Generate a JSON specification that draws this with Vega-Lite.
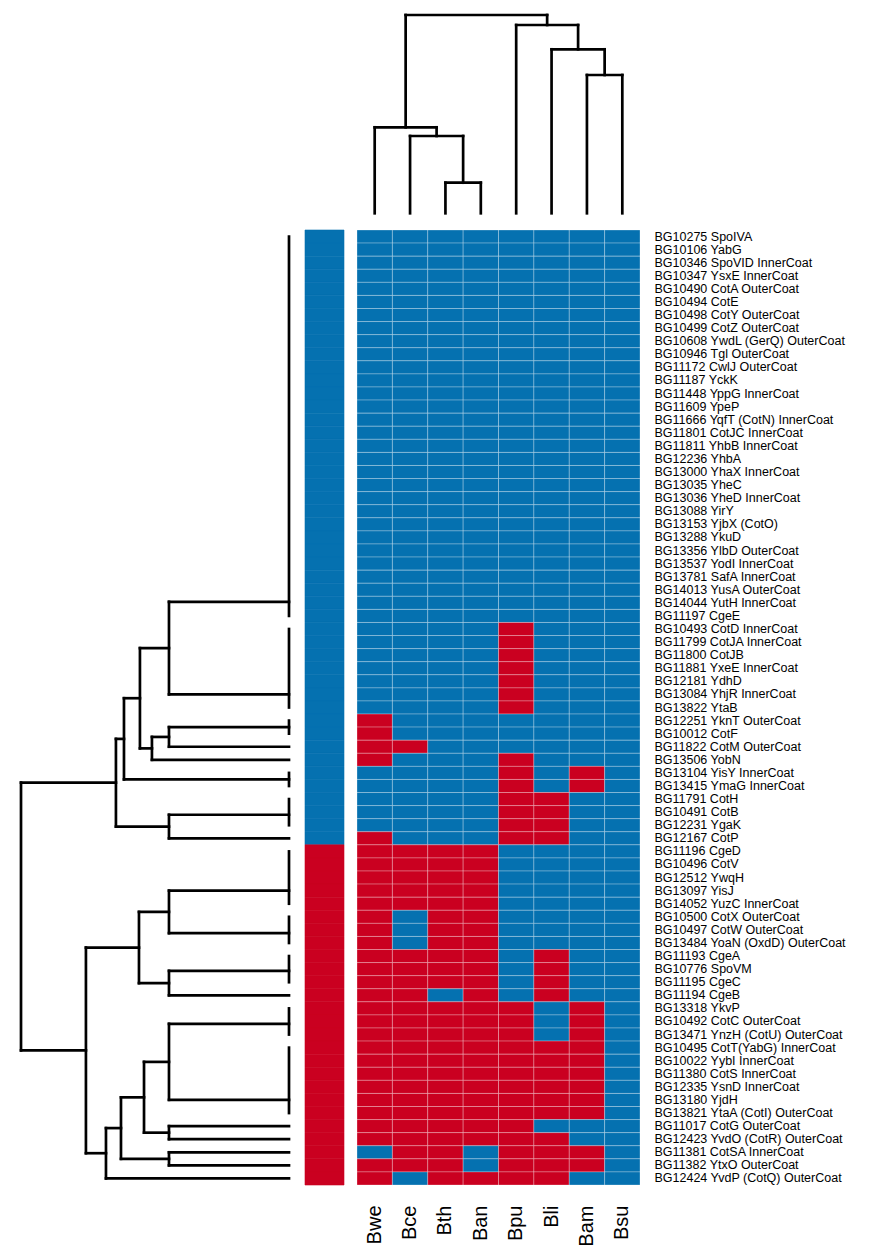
{
"$schema": "https://vega.github.io/schema/vega-lite/v6.json",
"background": "white",
"padding": {"left": 9, "top": 11, "right": 0, "bottom": 0},
"config": {"view": {"stroke": null}, "axis": {"labelFont": "Liberation Sans", "labelColor": "black"}},
"datasets": {
"genes": [
{"r":1,"g":"BG10275 SpoIVA","k":0},{"r":2,"g":"BG10106 YabG","k":0},{"r":3,"g":"BG10346 SpoVID InnerCoat","k":0},{"r":4,"g":"BG10347 YsxE InnerCoat","k":0},{"r":5,"g":"BG10490 CotA OuterCoat","k":0},{"r":6,"g":"BG10494 CotE","k":0},{"r":7,"g":"BG10498 CotY OuterCoat","k":0},{"r":8,"g":"BG10499 CotZ OuterCoat","k":0},{"r":9,"g":"BG10608 YwdL (GerQ) OuterCoat","k":0},{"r":10,"g":"BG10946 Tgl OuterCoat","k":0},
{"r":11,"g":"BG11172 CwlJ OuterCoat","k":0},{"r":12,"g":"BG11187 YckK","k":0},{"r":13,"g":"BG11448 YppG InnerCoat","k":0},{"r":14,"g":"BG11609 YpeP","k":0},{"r":15,"g":"BG11666 YqfT (CotN) InnerCoat","k":0},{"r":16,"g":"BG11801 CotJC InnerCoat","k":0},{"r":17,"g":"BG11811 YhbB InnerCoat","k":0},{"r":18,"g":"BG12236 YhbA","k":0},{"r":19,"g":"BG13000 YhaX InnerCoat","k":0},{"r":20,"g":"BG13035 YheC","k":0},
{"r":21,"g":"BG13036 YheD InnerCoat","k":0},{"r":22,"g":"BG13088 YirY","k":0},{"r":23,"g":"BG13153 YjbX (CotO)","k":0},{"r":24,"g":"BG13288 YkuD","k":0},{"r":25,"g":"BG13356 YlbD OuterCoat","k":0},{"r":26,"g":"BG13537 YodI InnerCoat","k":0},{"r":27,"g":"BG13781 SafA InnerCoat","k":0},{"r":28,"g":"BG14013 YusA OuterCoat","k":0},{"r":29,"g":"BG14044 YutH InnerCoat","k":0},{"r":30,"g":"BG11197 CgeE","k":0},
{"r":31,"g":"BG10493 CotD InnerCoat","k":0},{"r":32,"g":"BG11799 CotJA InnerCoat","k":0},{"r":33,"g":"BG11800 CotJB","k":0},{"r":34,"g":"BG11881 YxeE InnerCoat","k":0},{"r":35,"g":"BG12181 YdhD","k":0},{"r":36,"g":"BG13084 YhjR InnerCoat","k":0},{"r":37,"g":"BG13822 YtaB","k":0},{"r":38,"g":"BG12251 YknT OuterCoat","k":0},{"r":39,"g":"BG10012 CotF","k":0},{"r":40,"g":"BG11822 CotM OuterCoat","k":0},
{"r":41,"g":"BG13506 YobN","k":0},{"r":42,"g":"BG13104 YisY InnerCoat","k":0},{"r":43,"g":"BG13415 YmaG InnerCoat","k":0},{"r":44,"g":"BG11791 CotH","k":0},{"r":45,"g":"BG10491 CotB","k":0},{"r":46,"g":"BG12231 YgaK","k":0},{"r":47,"g":"BG12167 CotP","k":0},{"r":48,"g":"BG11196 CgeD","k":1},{"r":49,"g":"BG10496 CotV","k":1},{"r":50,"g":"BG12512 YwqH","k":1},
{"r":51,"g":"BG13097 YisJ","k":1},{"r":52,"g":"BG14052 YuzC InnerCoat","k":1},{"r":53,"g":"BG10500 CotX OuterCoat","k":1},{"r":54,"g":"BG10497 CotW OuterCoat","k":1},{"r":55,"g":"BG13484 YoaN (OxdD) OuterCoat","k":1},{"r":56,"g":"BG11193 CgeA","k":1},{"r":57,"g":"BG10776 SpoVM","k":1},{"r":58,"g":"BG11195 CgeC","k":1},{"r":59,"g":"BG11194 CgeB","k":1},{"r":60,"g":"BG13318 YkvP","k":1},
{"r":61,"g":"BG10492 CotC OuterCoat","k":1},{"r":62,"g":"BG13471 YnzH (CotU) OuterCoat","k":1},{"r":63,"g":"BG10495 CotT(YabG) InnerCoat","k":1},{"r":64,"g":"BG10022 YybI InnerCoat","k":1},{"r":65,"g":"BG11380 CotS InnerCoat","k":1},{"r":66,"g":"BG12335 YsnD InnerCoat","k":1},{"r":67,"g":"BG13180 YjdH","k":1},{"r":68,"g":"BG13821 YtaA (CotI) OuterCoat","k":1},{"r":69,"g":"BG11017 CotG OuterCoat","k":1},{"r":70,"g":"BG12423 YvdO (CotR) OuterCoat","k":1},
{"r":71,"g":"BG11381 CotSA InnerCoat","k":1},{"r":72,"g":"BG11382 YtxO OuterCoat","k":1},{"r":73,"g":"BG12424 YvdP (CotQ) OuterCoat","k":1}
],
"cells": [
{"r":1,"s":"Bwe","v":0},{"r":1,"s":"Bce","v":0},{"r":1,"s":"Bth","v":0},{"r":1,"s":"Ban","v":0},{"r":1,"s":"Bpu","v":0},{"r":1,"s":"Bli","v":0},{"r":1,"s":"Bam","v":0},{"r":1,"s":"Bsu","v":0},
{"r":2,"s":"Bwe","v":0},{"r":2,"s":"Bce","v":0},{"r":2,"s":"Bth","v":0},{"r":2,"s":"Ban","v":0},{"r":2,"s":"Bpu","v":0},{"r":2,"s":"Bli","v":0},{"r":2,"s":"Bam","v":0},{"r":2,"s":"Bsu","v":0},
{"r":3,"s":"Bwe","v":0},{"r":3,"s":"Bce","v":0},{"r":3,"s":"Bth","v":0},{"r":3,"s":"Ban","v":0},{"r":3,"s":"Bpu","v":0},{"r":3,"s":"Bli","v":0},{"r":3,"s":"Bam","v":0},{"r":3,"s":"Bsu","v":0},
{"r":4,"s":"Bwe","v":0},{"r":4,"s":"Bce","v":0},{"r":4,"s":"Bth","v":0},{"r":4,"s":"Ban","v":0},{"r":4,"s":"Bpu","v":0},{"r":4,"s":"Bli","v":0},{"r":4,"s":"Bam","v":0},{"r":4,"s":"Bsu","v":0},
{"r":5,"s":"Bwe","v":0},{"r":5,"s":"Bce","v":0},{"r":5,"s":"Bth","v":0},{"r":5,"s":"Ban","v":0},{"r":5,"s":"Bpu","v":0},{"r":5,"s":"Bli","v":0},{"r":5,"s":"Bam","v":0},{"r":5,"s":"Bsu","v":0},
{"r":6,"s":"Bwe","v":0},{"r":6,"s":"Bce","v":0},{"r":6,"s":"Bth","v":0},{"r":6,"s":"Ban","v":0},{"r":6,"s":"Bpu","v":0},{"r":6,"s":"Bli","v":0},{"r":6,"s":"Bam","v":0},{"r":6,"s":"Bsu","v":0},
{"r":7,"s":"Bwe","v":0},{"r":7,"s":"Bce","v":0},{"r":7,"s":"Bth","v":0},{"r":7,"s":"Ban","v":0},{"r":7,"s":"Bpu","v":0},{"r":7,"s":"Bli","v":0},{"r":7,"s":"Bam","v":0},{"r":7,"s":"Bsu","v":0},
{"r":8,"s":"Bwe","v":0},{"r":8,"s":"Bce","v":0},{"r":8,"s":"Bth","v":0},{"r":8,"s":"Ban","v":0},{"r":8,"s":"Bpu","v":0},{"r":8,"s":"Bli","v":0},{"r":8,"s":"Bam","v":0},{"r":8,"s":"Bsu","v":0},
{"r":9,"s":"Bwe","v":0},{"r":9,"s":"Bce","v":0},{"r":9,"s":"Bth","v":0},{"r":9,"s":"Ban","v":0},{"r":9,"s":"Bpu","v":0},{"r":9,"s":"Bli","v":0},{"r":9,"s":"Bam","v":0},{"r":9,"s":"Bsu","v":0},
{"r":10,"s":"Bwe","v":0},{"r":10,"s":"Bce","v":0},{"r":10,"s":"Bth","v":0},{"r":10,"s":"Ban","v":0},{"r":10,"s":"Bpu","v":0},{"r":10,"s":"Bli","v":0},{"r":10,"s":"Bam","v":0},{"r":10,"s":"Bsu","v":0},
{"r":11,"s":"Bwe","v":0},{"r":11,"s":"Bce","v":0},{"r":11,"s":"Bth","v":0},{"r":11,"s":"Ban","v":0},{"r":11,"s":"Bpu","v":0},{"r":11,"s":"Bli","v":0},{"r":11,"s":"Bam","v":0},{"r":11,"s":"Bsu","v":0},
{"r":12,"s":"Bwe","v":0},{"r":12,"s":"Bce","v":0},{"r":12,"s":"Bth","v":0},{"r":12,"s":"Ban","v":0},{"r":12,"s":"Bpu","v":0},{"r":12,"s":"Bli","v":0},{"r":12,"s":"Bam","v":0},{"r":12,"s":"Bsu","v":0},
{"r":13,"s":"Bwe","v":0},{"r":13,"s":"Bce","v":0},{"r":13,"s":"Bth","v":0},{"r":13,"s":"Ban","v":0},{"r":13,"s":"Bpu","v":0},{"r":13,"s":"Bli","v":0},{"r":13,"s":"Bam","v":0},{"r":13,"s":"Bsu","v":0},
{"r":14,"s":"Bwe","v":0},{"r":14,"s":"Bce","v":0},{"r":14,"s":"Bth","v":0},{"r":14,"s":"Ban","v":0},{"r":14,"s":"Bpu","v":0},{"r":14,"s":"Bli","v":0},{"r":14,"s":"Bam","v":0},{"r":14,"s":"Bsu","v":0},
{"r":15,"s":"Bwe","v":0},{"r":15,"s":"Bce","v":0},{"r":15,"s":"Bth","v":0},{"r":15,"s":"Ban","v":0},{"r":15,"s":"Bpu","v":0},{"r":15,"s":"Bli","v":0},{"r":15,"s":"Bam","v":0},{"r":15,"s":"Bsu","v":0},
{"r":16,"s":"Bwe","v":0},{"r":16,"s":"Bce","v":0},{"r":16,"s":"Bth","v":0},{"r":16,"s":"Ban","v":0},{"r":16,"s":"Bpu","v":0},{"r":16,"s":"Bli","v":0},{"r":16,"s":"Bam","v":0},{"r":16,"s":"Bsu","v":0},
{"r":17,"s":"Bwe","v":0},{"r":17,"s":"Bce","v":0},{"r":17,"s":"Bth","v":0},{"r":17,"s":"Ban","v":0},{"r":17,"s":"Bpu","v":0},{"r":17,"s":"Bli","v":0},{"r":17,"s":"Bam","v":0},{"r":17,"s":"Bsu","v":0},
{"r":18,"s":"Bwe","v":0},{"r":18,"s":"Bce","v":0},{"r":18,"s":"Bth","v":0},{"r":18,"s":"Ban","v":0},{"r":18,"s":"Bpu","v":0},{"r":18,"s":"Bli","v":0},{"r":18,"s":"Bam","v":0},{"r":18,"s":"Bsu","v":0},
{"r":19,"s":"Bwe","v":0},{"r":19,"s":"Bce","v":0},{"r":19,"s":"Bth","v":0},{"r":19,"s":"Ban","v":0},{"r":19,"s":"Bpu","v":0},{"r":19,"s":"Bli","v":0},{"r":19,"s":"Bam","v":0},{"r":19,"s":"Bsu","v":0},
{"r":20,"s":"Bwe","v":0},{"r":20,"s":"Bce","v":0},{"r":20,"s":"Bth","v":0},{"r":20,"s":"Ban","v":0},{"r":20,"s":"Bpu","v":0},{"r":20,"s":"Bli","v":0},{"r":20,"s":"Bam","v":0},{"r":20,"s":"Bsu","v":0},
{"r":21,"s":"Bwe","v":0},{"r":21,"s":"Bce","v":0},{"r":21,"s":"Bth","v":0},{"r":21,"s":"Ban","v":0},{"r":21,"s":"Bpu","v":0},{"r":21,"s":"Bli","v":0},{"r":21,"s":"Bam","v":0},{"r":21,"s":"Bsu","v":0},
{"r":22,"s":"Bwe","v":0},{"r":22,"s":"Bce","v":0},{"r":22,"s":"Bth","v":0},{"r":22,"s":"Ban","v":0},{"r":22,"s":"Bpu","v":0},{"r":22,"s":"Bli","v":0},{"r":22,"s":"Bam","v":0},{"r":22,"s":"Bsu","v":0},
{"r":23,"s":"Bwe","v":0},{"r":23,"s":"Bce","v":0},{"r":23,"s":"Bth","v":0},{"r":23,"s":"Ban","v":0},{"r":23,"s":"Bpu","v":0},{"r":23,"s":"Bli","v":0},{"r":23,"s":"Bam","v":0},{"r":23,"s":"Bsu","v":0},
{"r":24,"s":"Bwe","v":0},{"r":24,"s":"Bce","v":0},{"r":24,"s":"Bth","v":0},{"r":24,"s":"Ban","v":0},{"r":24,"s":"Bpu","v":0},{"r":24,"s":"Bli","v":0},{"r":24,"s":"Bam","v":0},{"r":24,"s":"Bsu","v":0},
{"r":25,"s":"Bwe","v":0},{"r":25,"s":"Bce","v":0},{"r":25,"s":"Bth","v":0},{"r":25,"s":"Ban","v":0},{"r":25,"s":"Bpu","v":0},{"r":25,"s":"Bli","v":0},{"r":25,"s":"Bam","v":0},{"r":25,"s":"Bsu","v":0},
{"r":26,"s":"Bwe","v":0},{"r":26,"s":"Bce","v":0},{"r":26,"s":"Bth","v":0},{"r":26,"s":"Ban","v":0},{"r":26,"s":"Bpu","v":0},{"r":26,"s":"Bli","v":0},{"r":26,"s":"Bam","v":0},{"r":26,"s":"Bsu","v":0},
{"r":27,"s":"Bwe","v":0},{"r":27,"s":"Bce","v":0},{"r":27,"s":"Bth","v":0},{"r":27,"s":"Ban","v":0},{"r":27,"s":"Bpu","v":0},{"r":27,"s":"Bli","v":0},{"r":27,"s":"Bam","v":0},{"r":27,"s":"Bsu","v":0},
{"r":28,"s":"Bwe","v":0},{"r":28,"s":"Bce","v":0},{"r":28,"s":"Bth","v":0},{"r":28,"s":"Ban","v":0},{"r":28,"s":"Bpu","v":0},{"r":28,"s":"Bli","v":0},{"r":28,"s":"Bam","v":0},{"r":28,"s":"Bsu","v":0},
{"r":29,"s":"Bwe","v":0},{"r":29,"s":"Bce","v":0},{"r":29,"s":"Bth","v":0},{"r":29,"s":"Ban","v":0},{"r":29,"s":"Bpu","v":0},{"r":29,"s":"Bli","v":0},{"r":29,"s":"Bam","v":0},{"r":29,"s":"Bsu","v":0},
{"r":30,"s":"Bwe","v":0},{"r":30,"s":"Bce","v":0},{"r":30,"s":"Bth","v":0},{"r":30,"s":"Ban","v":0},{"r":30,"s":"Bpu","v":0},{"r":30,"s":"Bli","v":0},{"r":30,"s":"Bam","v":0},{"r":30,"s":"Bsu","v":0},
{"r":31,"s":"Bwe","v":0},{"r":31,"s":"Bce","v":0},{"r":31,"s":"Bth","v":0},{"r":31,"s":"Ban","v":0},{"r":31,"s":"Bpu","v":1},{"r":31,"s":"Bli","v":0},{"r":31,"s":"Bam","v":0},{"r":31,"s":"Bsu","v":0},
{"r":32,"s":"Bwe","v":0},{"r":32,"s":"Bce","v":0},{"r":32,"s":"Bth","v":0},{"r":32,"s":"Ban","v":0},{"r":32,"s":"Bpu","v":1},{"r":32,"s":"Bli","v":0},{"r":32,"s":"Bam","v":0},{"r":32,"s":"Bsu","v":0},
{"r":33,"s":"Bwe","v":0},{"r":33,"s":"Bce","v":0},{"r":33,"s":"Bth","v":0},{"r":33,"s":"Ban","v":0},{"r":33,"s":"Bpu","v":1},{"r":33,"s":"Bli","v":0},{"r":33,"s":"Bam","v":0},{"r":33,"s":"Bsu","v":0},
{"r":34,"s":"Bwe","v":0},{"r":34,"s":"Bce","v":0},{"r":34,"s":"Bth","v":0},{"r":34,"s":"Ban","v":0},{"r":34,"s":"Bpu","v":1},{"r":34,"s":"Bli","v":0},{"r":34,"s":"Bam","v":0},{"r":34,"s":"Bsu","v":0},
{"r":35,"s":"Bwe","v":0},{"r":35,"s":"Bce","v":0},{"r":35,"s":"Bth","v":0},{"r":35,"s":"Ban","v":0},{"r":35,"s":"Bpu","v":1},{"r":35,"s":"Bli","v":0},{"r":35,"s":"Bam","v":0},{"r":35,"s":"Bsu","v":0},
{"r":36,"s":"Bwe","v":0},{"r":36,"s":"Bce","v":0},{"r":36,"s":"Bth","v":0},{"r":36,"s":"Ban","v":0},{"r":36,"s":"Bpu","v":1},{"r":36,"s":"Bli","v":0},{"r":36,"s":"Bam","v":0},{"r":36,"s":"Bsu","v":0},
{"r":37,"s":"Bwe","v":0},{"r":37,"s":"Bce","v":0},{"r":37,"s":"Bth","v":0},{"r":37,"s":"Ban","v":0},{"r":37,"s":"Bpu","v":1},{"r":37,"s":"Bli","v":0},{"r":37,"s":"Bam","v":0},{"r":37,"s":"Bsu","v":0},
{"r":38,"s":"Bwe","v":1},{"r":38,"s":"Bce","v":0},{"r":38,"s":"Bth","v":0},{"r":38,"s":"Ban","v":0},{"r":38,"s":"Bpu","v":0},{"r":38,"s":"Bli","v":0},{"r":38,"s":"Bam","v":0},{"r":38,"s":"Bsu","v":0},
{"r":39,"s":"Bwe","v":1},{"r":39,"s":"Bce","v":0},{"r":39,"s":"Bth","v":0},{"r":39,"s":"Ban","v":0},{"r":39,"s":"Bpu","v":0},{"r":39,"s":"Bli","v":0},{"r":39,"s":"Bam","v":0},{"r":39,"s":"Bsu","v":0},
{"r":40,"s":"Bwe","v":1},{"r":40,"s":"Bce","v":1},{"r":40,"s":"Bth","v":0},{"r":40,"s":"Ban","v":0},{"r":40,"s":"Bpu","v":0},{"r":40,"s":"Bli","v":0},{"r":40,"s":"Bam","v":0},{"r":40,"s":"Bsu","v":0},
{"r":41,"s":"Bwe","v":1},{"r":41,"s":"Bce","v":0},{"r":41,"s":"Bth","v":0},{"r":41,"s":"Ban","v":0},{"r":41,"s":"Bpu","v":1},{"r":41,"s":"Bli","v":0},{"r":41,"s":"Bam","v":0},{"r":41,"s":"Bsu","v":0},
{"r":42,"s":"Bwe","v":0},{"r":42,"s":"Bce","v":0},{"r":42,"s":"Bth","v":0},{"r":42,"s":"Ban","v":0},{"r":42,"s":"Bpu","v":1},{"r":42,"s":"Bli","v":0},{"r":42,"s":"Bam","v":1},{"r":42,"s":"Bsu","v":0},
{"r":43,"s":"Bwe","v":0},{"r":43,"s":"Bce","v":0},{"r":43,"s":"Bth","v":0},{"r":43,"s":"Ban","v":0},{"r":43,"s":"Bpu","v":1},{"r":43,"s":"Bli","v":0},{"r":43,"s":"Bam","v":1},{"r":43,"s":"Bsu","v":0},
{"r":44,"s":"Bwe","v":0},{"r":44,"s":"Bce","v":0},{"r":44,"s":"Bth","v":0},{"r":44,"s":"Ban","v":0},{"r":44,"s":"Bpu","v":1},{"r":44,"s":"Bli","v":1},{"r":44,"s":"Bam","v":0},{"r":44,"s":"Bsu","v":0},
{"r":45,"s":"Bwe","v":0},{"r":45,"s":"Bce","v":0},{"r":45,"s":"Bth","v":0},{"r":45,"s":"Ban","v":0},{"r":45,"s":"Bpu","v":1},{"r":45,"s":"Bli","v":1},{"r":45,"s":"Bam","v":0},{"r":45,"s":"Bsu","v":0},
{"r":46,"s":"Bwe","v":0},{"r":46,"s":"Bce","v":0},{"r":46,"s":"Bth","v":0},{"r":46,"s":"Ban","v":0},{"r":46,"s":"Bpu","v":1},{"r":46,"s":"Bli","v":1},{"r":46,"s":"Bam","v":0},{"r":46,"s":"Bsu","v":0},
{"r":47,"s":"Bwe","v":1},{"r":47,"s":"Bce","v":0},{"r":47,"s":"Bth","v":0},{"r":47,"s":"Ban","v":0},{"r":47,"s":"Bpu","v":1},{"r":47,"s":"Bli","v":1},{"r":47,"s":"Bam","v":0},{"r":47,"s":"Bsu","v":0},
{"r":48,"s":"Bwe","v":1},{"r":48,"s":"Bce","v":1},{"r":48,"s":"Bth","v":1},{"r":48,"s":"Ban","v":1},{"r":48,"s":"Bpu","v":0},{"r":48,"s":"Bli","v":0},{"r":48,"s":"Bam","v":0},{"r":48,"s":"Bsu","v":0},
{"r":49,"s":"Bwe","v":1},{"r":49,"s":"Bce","v":1},{"r":49,"s":"Bth","v":1},{"r":49,"s":"Ban","v":1},{"r":49,"s":"Bpu","v":0},{"r":49,"s":"Bli","v":0},{"r":49,"s":"Bam","v":0},{"r":49,"s":"Bsu","v":0},
{"r":50,"s":"Bwe","v":1},{"r":50,"s":"Bce","v":1},{"r":50,"s":"Bth","v":1},{"r":50,"s":"Ban","v":1},{"r":50,"s":"Bpu","v":0},{"r":50,"s":"Bli","v":0},{"r":50,"s":"Bam","v":0},{"r":50,"s":"Bsu","v":0},
{"r":51,"s":"Bwe","v":1},{"r":51,"s":"Bce","v":1},{"r":51,"s":"Bth","v":1},{"r":51,"s":"Ban","v":1},{"r":51,"s":"Bpu","v":0},{"r":51,"s":"Bli","v":0},{"r":51,"s":"Bam","v":0},{"r":51,"s":"Bsu","v":0},
{"r":52,"s":"Bwe","v":1},{"r":52,"s":"Bce","v":1},{"r":52,"s":"Bth","v":1},{"r":52,"s":"Ban","v":1},{"r":52,"s":"Bpu","v":0},{"r":52,"s":"Bli","v":0},{"r":52,"s":"Bam","v":0},{"r":52,"s":"Bsu","v":0},
{"r":53,"s":"Bwe","v":1},{"r":53,"s":"Bce","v":0},{"r":53,"s":"Bth","v":1},{"r":53,"s":"Ban","v":1},{"r":53,"s":"Bpu","v":0},{"r":53,"s":"Bli","v":0},{"r":53,"s":"Bam","v":0},{"r":53,"s":"Bsu","v":0},
{"r":54,"s":"Bwe","v":1},{"r":54,"s":"Bce","v":0},{"r":54,"s":"Bth","v":1},{"r":54,"s":"Ban","v":1},{"r":54,"s":"Bpu","v":0},{"r":54,"s":"Bli","v":0},{"r":54,"s":"Bam","v":0},{"r":54,"s":"Bsu","v":0},
{"r":55,"s":"Bwe","v":1},{"r":55,"s":"Bce","v":0},{"r":55,"s":"Bth","v":1},{"r":55,"s":"Ban","v":1},{"r":55,"s":"Bpu","v":0},{"r":55,"s":"Bli","v":0},{"r":55,"s":"Bam","v":0},{"r":55,"s":"Bsu","v":0},
{"r":56,"s":"Bwe","v":1},{"r":56,"s":"Bce","v":1},{"r":56,"s":"Bth","v":1},{"r":56,"s":"Ban","v":1},{"r":56,"s":"Bpu","v":0},{"r":56,"s":"Bli","v":1},{"r":56,"s":"Bam","v":0},{"r":56,"s":"Bsu","v":0},
{"r":57,"s":"Bwe","v":1},{"r":57,"s":"Bce","v":1},{"r":57,"s":"Bth","v":1},{"r":57,"s":"Ban","v":1},{"r":57,"s":"Bpu","v":0},{"r":57,"s":"Bli","v":1},{"r":57,"s":"Bam","v":0},{"r":57,"s":"Bsu","v":0},
{"r":58,"s":"Bwe","v":1},{"r":58,"s":"Bce","v":1},{"r":58,"s":"Bth","v":1},{"r":58,"s":"Ban","v":1},{"r":58,"s":"Bpu","v":0},{"r":58,"s":"Bli","v":1},{"r":58,"s":"Bam","v":0},{"r":58,"s":"Bsu","v":0},
{"r":59,"s":"Bwe","v":1},{"r":59,"s":"Bce","v":1},{"r":59,"s":"Bth","v":0},{"r":59,"s":"Ban","v":1},{"r":59,"s":"Bpu","v":0},{"r":59,"s":"Bli","v":1},{"r":59,"s":"Bam","v":0},{"r":59,"s":"Bsu","v":0},
{"r":60,"s":"Bwe","v":1},{"r":60,"s":"Bce","v":1},{"r":60,"s":"Bth","v":1},{"r":60,"s":"Ban","v":1},{"r":60,"s":"Bpu","v":1},{"r":60,"s":"Bli","v":0},{"r":60,"s":"Bam","v":1},{"r":60,"s":"Bsu","v":0},
{"r":61,"s":"Bwe","v":1},{"r":61,"s":"Bce","v":1},{"r":61,"s":"Bth","v":1},{"r":61,"s":"Ban","v":1},{"r":61,"s":"Bpu","v":1},{"r":61,"s":"Bli","v":0},{"r":61,"s":"Bam","v":1},{"r":61,"s":"Bsu","v":0},
{"r":62,"s":"Bwe","v":1},{"r":62,"s":"Bce","v":1},{"r":62,"s":"Bth","v":1},{"r":62,"s":"Ban","v":1},{"r":62,"s":"Bpu","v":1},{"r":62,"s":"Bli","v":0},{"r":62,"s":"Bam","v":1},{"r":62,"s":"Bsu","v":0},
{"r":63,"s":"Bwe","v":1},{"r":63,"s":"Bce","v":1},{"r":63,"s":"Bth","v":1},{"r":63,"s":"Ban","v":1},{"r":63,"s":"Bpu","v":1},{"r":63,"s":"Bli","v":1},{"r":63,"s":"Bam","v":1},{"r":63,"s":"Bsu","v":0},
{"r":64,"s":"Bwe","v":1},{"r":64,"s":"Bce","v":1},{"r":64,"s":"Bth","v":1},{"r":64,"s":"Ban","v":1},{"r":64,"s":"Bpu","v":1},{"r":64,"s":"Bli","v":1},{"r":64,"s":"Bam","v":1},{"r":64,"s":"Bsu","v":0},
{"r":65,"s":"Bwe","v":1},{"r":65,"s":"Bce","v":1},{"r":65,"s":"Bth","v":1},{"r":65,"s":"Ban","v":1},{"r":65,"s":"Bpu","v":1},{"r":65,"s":"Bli","v":1},{"r":65,"s":"Bam","v":1},{"r":65,"s":"Bsu","v":0},
{"r":66,"s":"Bwe","v":1},{"r":66,"s":"Bce","v":1},{"r":66,"s":"Bth","v":1},{"r":66,"s":"Ban","v":1},{"r":66,"s":"Bpu","v":1},{"r":66,"s":"Bli","v":1},{"r":66,"s":"Bam","v":1},{"r":66,"s":"Bsu","v":0},
{"r":67,"s":"Bwe","v":1},{"r":67,"s":"Bce","v":1},{"r":67,"s":"Bth","v":1},{"r":67,"s":"Ban","v":1},{"r":67,"s":"Bpu","v":1},{"r":67,"s":"Bli","v":1},{"r":67,"s":"Bam","v":1},{"r":67,"s":"Bsu","v":0},
{"r":68,"s":"Bwe","v":1},{"r":68,"s":"Bce","v":1},{"r":68,"s":"Bth","v":1},{"r":68,"s":"Ban","v":1},{"r":68,"s":"Bpu","v":1},{"r":68,"s":"Bli","v":1},{"r":68,"s":"Bam","v":1},{"r":68,"s":"Bsu","v":0},
{"r":69,"s":"Bwe","v":1},{"r":69,"s":"Bce","v":1},{"r":69,"s":"Bth","v":1},{"r":69,"s":"Ban","v":1},{"r":69,"s":"Bpu","v":1},{"r":69,"s":"Bli","v":0},{"r":69,"s":"Bam","v":0},{"r":69,"s":"Bsu","v":0},
{"r":70,"s":"Bwe","v":1},{"r":70,"s":"Bce","v":1},{"r":70,"s":"Bth","v":1},{"r":70,"s":"Ban","v":1},{"r":70,"s":"Bpu","v":1},{"r":70,"s":"Bli","v":1},{"r":70,"s":"Bam","v":0},{"r":70,"s":"Bsu","v":0},
{"r":71,"s":"Bwe","v":0},{"r":71,"s":"Bce","v":1},{"r":71,"s":"Bth","v":1},{"r":71,"s":"Ban","v":0},{"r":71,"s":"Bpu","v":1},{"r":71,"s":"Bli","v":1},{"r":71,"s":"Bam","v":1},{"r":71,"s":"Bsu","v":0},
{"r":72,"s":"Bwe","v":1},{"r":72,"s":"Bce","v":1},{"r":72,"s":"Bth","v":1},{"r":72,"s":"Ban","v":0},{"r":72,"s":"Bpu","v":1},{"r":72,"s":"Bli","v":1},{"r":72,"s":"Bam","v":1},{"r":72,"s":"Bsu","v":0},
{"r":73,"s":"Bwe","v":1},{"r":73,"s":"Bce","v":0},{"r":73,"s":"Bth","v":1},{"r":73,"s":"Ban","v":1},{"r":73,"s":"Bpu","v":1},{"r":73,"s":"Bli","v":1},{"r":73,"s":"Bam","v":0},{"r":73,"s":"Bsu","v":0}
],
"top": [
{"c":3,"c2":3,"h":0,"h2":3.06},{"c":4,"c2":4,"h":0,"h2":3.06},{"c":3,"c2":4,"h":3.06,"h2":3.06},
{"c":2,"c2":2,"h":0,"h2":7.73},{"c":3.5,"c2":3.5,"h":3.06,"h2":7.73},{"c":2,"c2":3.5,"h":7.73,"h2":7.73},
{"c":1,"c2":1,"h":0,"h2":8.6},{"c":2.75,"c2":2.75,"h":7.73,"h2":8.6},{"c":1,"c2":2.75,"h":8.6,"h2":8.6},
{"c":7,"c2":7,"h":0,"h2":13.83},{"c":8,"c2":8,"h":0,"h2":13.83},{"c":7,"c2":8,"h":13.83,"h2":13.83},
{"c":6,"c2":6,"h":0,"h2":16.4},{"c":7.5,"c2":7.5,"h":13.83,"h2":16.4},{"c":6,"c2":7.5,"h":16.4,"h2":16.4},
{"c":5,"c2":5,"h":0,"h2":18.83},{"c":6.75,"c2":6.75,"h":16.4,"h2":18.83},{"c":5,"c2":6.75,"h":18.83,"h2":18.83},
{"c":1.875,"c2":1.875,"h":8.6,"h2":19.83},{"c":5.875,"c2":5.875,"h":18.83,"h2":19.83},{"c":1.875,"c2":5.875,"h":19.83,"h2":19.83}
],
"left": [
{"h":0,"h2":0,"p":1,"p2":30},{"h":0,"h2":0,"p":31,"p2":37},{"h":0,"h2":0,"p":38,"p2":39},{"h":0,"h2":0,"p":42,"p2":43},{"h":0,"h2":0,"p":44,"p2":46},
{"h":0,"h2":0,"p":48,"p2":52},{"h":0,"h2":0,"p":53,"p2":55},{"h":0,"h2":0,"p":56,"p2":58},{"h":0,"h2":0,"p":60,"p2":62},{"h":0,"h2":0,"p":63,"p2":68},
{"h":0,"h2":1,"p":28.92,"p2":28.92},{"h":0,"h2":1,"p":36,"p2":36},{"h":1,"h2":1,"p":28.92,"p2":36},
{"h":0,"h2":1,"p":38.5,"p2":38.5},{"h":0,"h2":1,"p":40,"p2":40},{"h":1,"h2":1,"p":38.5,"p2":40},
{"h":1,"h2":1.142,"p":39.25,"p2":39.25},{"h":0,"h2":1.142,"p":41,"p2":41},{"h":1.142,"h2":1.142,"p":39.25,"p2":41},
{"h":1,"h2":1.242,"p":32.46,"p2":32.46},{"h":1.142,"h2":1.242,"p":40.125,"p2":40.125},{"h":1.242,"h2":1.242,"p":32.46,"p2":40.125},
{"h":1.242,"h2":1.375,"p":36.29,"p2":36.29},{"h":0,"h2":1.375,"p":42.5,"p2":42.5},{"h":1.375,"h2":1.375,"p":36.29,"p2":42.5},
{"h":0,"h2":1,"p":45.2,"p2":45.2},{"h":0,"h2":1,"p":47,"p2":47},{"h":1,"h2":1,"p":45.2,"p2":47},
{"h":1.375,"h2":1.442,"p":39.4,"p2":39.4},{"h":1,"h2":1.442,"p":46.1,"p2":46.1},{"h":1.442,"h2":1.442,"p":39.4,"p2":46.1},
{"h":0,"h2":1,"p":51,"p2":51},{"h":0,"h2":1,"p":54.25,"p2":54.25},{"h":1,"h2":1,"p":51,"p2":54.25},
{"h":0,"h2":1,"p":57.13,"p2":57.13},{"h":0,"h2":1,"p":59,"p2":59},{"h":1,"h2":1,"p":57.13,"p2":59},
{"h":1,"h2":1.25,"p":52.63,"p2":52.63},{"h":1,"h2":1.25,"p":58.07,"p2":58.07},{"h":1.25,"h2":1.25,"p":52.63,"p2":58.07},
{"h":0,"h2":1,"p":61.18,"p2":61.18},{"h":0,"h2":1,"p":66.99,"p2":66.99},{"h":1,"h2":1,"p":61.18,"p2":66.99},
{"h":0,"h2":1,"p":69,"p2":69},{"h":0,"h2":1,"p":70,"p2":70},{"h":1,"h2":1,"p":69,"p2":70},
{"h":1,"h2":1.208,"p":64.09,"p2":64.09},{"h":1,"h2":1.208,"p":69.5,"p2":69.5},{"h":1.208,"h2":1.208,"p":64.09,"p2":69.5},
{"h":0,"h2":1,"p":71,"p2":71},{"h":0,"h2":1,"p":72,"p2":72},{"h":1,"h2":1,"p":71,"p2":72},
{"h":1.208,"h2":1.4,"p":66.8,"p2":66.8},{"h":1,"h2":1.4,"p":71.5,"p2":71.5},{"h":1.4,"h2":1.4,"p":66.8,"p2":71.5},
{"h":1.4,"h2":1.525,"p":69.15,"p2":69.15},{"h":0,"h2":1.525,"p":73,"p2":73},{"h":1.525,"h2":1.525,"p":69.15,"p2":73},
{"h":1.25,"h2":1.692,"p":55.35,"p2":55.35},{"h":1.525,"h2":1.692,"p":71.07,"p2":71.07},{"h":1.692,"h2":1.692,"p":55.35,"p2":71.07},
{"h":1.442,"h2":2.233,"p":42.75,"p2":42.75},{"h":1.692,"h2":2.233,"p":63.21,"p2":63.21},{"h":2.233,"h2":2.233,"p":42.75,"p2":63.21}
]
},
"spacing": 13,
"resolve": {"scale": {"color": "independent", "stroke": "independent"}},
"vconcat": [
{"bounds": "flush", "spacing": 13, "hconcat": [
  {"data": {"values": []}, "mark": "point", "width": 335, "height": 204},
  {"data": {"name": "top"}, "width": 283, "height": 204,
   "mark": {"type": "rule", "color": "black", "strokeWidth": 2.7, "strokeCap": "square"},
   "encoding": {
     "x": {"field": "c", "type": "quantitative", "scale": {"domain": [0.5, 8.5], "nice": false, "zero": false}, "axis": null},
     "x2": {"field": "c2"},
     "y": {"field": "h", "type": "quantitative", "scale": {"domain": [-0.17, 20.23], "nice": false, "zero": false}, "axis": null},
     "y2": {"field": "h2"}
   }}
]},
{"bounds": "flush", "spacing": 13, "resolve": {"scale": {"color": "independent", "stroke": "independent"}}, "hconcat": [
  {"data": {"name": "left"}, "width": 283, "height": 955,
   "mark": {"type": "rule", "color": "black", "strokeWidth": 2.7, "strokeCap": "square"},
   "encoding": {
     "x": {"field": "h", "type": "quantitative", "scale": {"domain": [-0.025, 2.333], "reverse": true, "nice": false, "zero": false}, "axis": null},
     "x2": {"field": "h2"},
     "y": {"field": "p", "type": "quantitative", "scale": {"domain": [0.5, 73.5], "reverse": true, "nice": false, "zero": false}, "axis": null},
     "y2": {"field": "p2"}
   }},
  {"data": {"name": "genes"}, "width": 39, "height": 955,
   "mark": {"type": "rect", "strokeWidth": 0.6},
   "encoding": {
     "y": {"field": "g", "type": "nominal", "sort": {"field": "r", "op": "min"}, "scale": {"paddingInner": 0, "paddingOuter": 0}, "axis": null},
     "color": {"field": "k", "type": "nominal", "scale": {"domain": [0, 1], "range": ["#0571b0", "#ca0020"]}, "legend": null},
     "stroke": {"field": "k", "type": "nominal", "scale": {"domain": [0, 1], "range": ["#0571b0", "#ca0020"]}, "legend": null}
   }},
  {"data": {"name": "cells"}, "width": 283, "height": 955,
   "transform": [{"lookup": "r", "from": {"data": {"name": "genes"}, "key": "r", "fields": ["g"]}}],
   "mark": {"type": "rect", "stroke": "white", "strokeWidth": 0.8, "strokeOpacity": 0.35},
   "encoding": {
     "x": {"field": "s", "type": "nominal", "sort": ["Bwe", "Bce", "Bth", "Ban", "Bpu", "Bli", "Bam", "Bsu"], "scale": {"paddingInner": 0, "paddingOuter": 0},
           "axis": {"orient": "bottom", "title": null, "labelAngle": 270, "labelFontSize": 20, "labelPadding": 20, "ticks": false, "domain": false}},
     "y": {"field": "g", "type": "nominal", "sort": {"field": "r", "op": "min"}, "scale": {"paddingInner": 0, "paddingOuter": 0},
           "axis": {"orient": "right", "title": null, "ticks": false, "domain": false, "labelFontSize": 12.5, "labelPadding": 14, "labelLimit": 0}},
     "color": {"field": "v", "type": "nominal", "scale": {"domain": [0, 1], "range": ["#0571b0", "#ca0020"]}, "legend": null}
   }}
]}
]
}
